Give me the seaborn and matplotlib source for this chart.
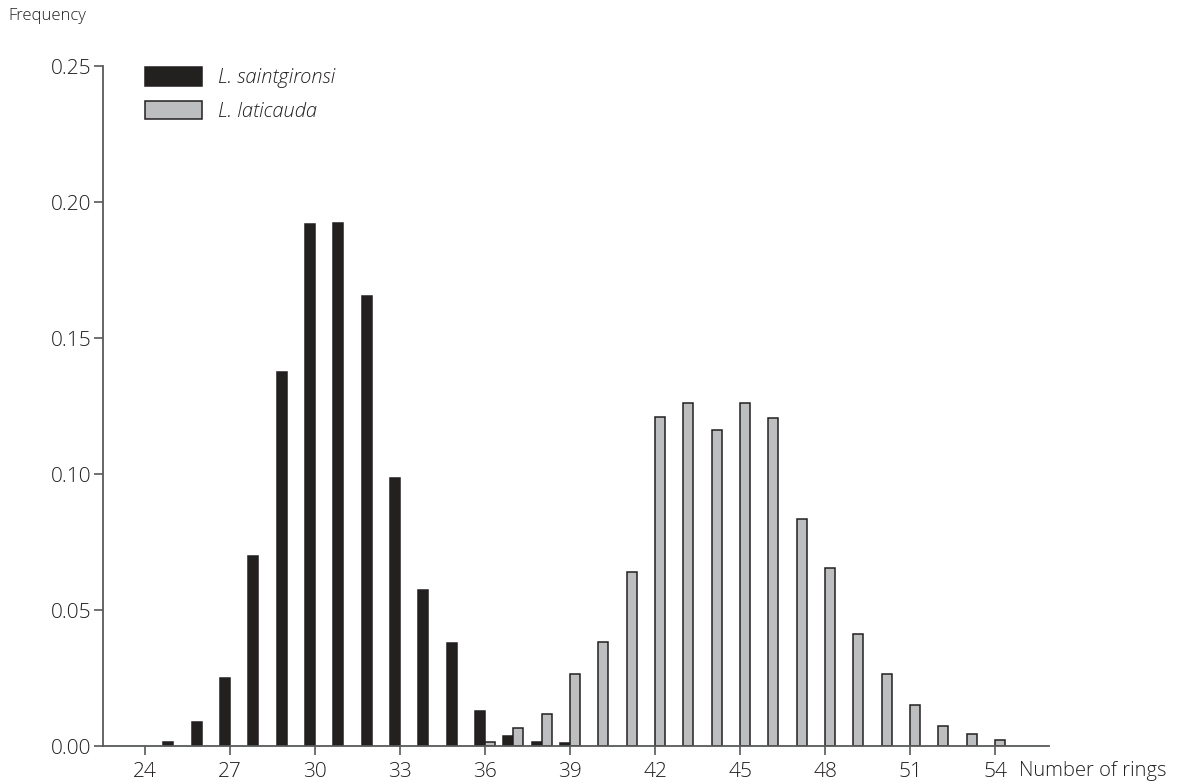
import matplotlib
matplotlib.use("Agg")
import matplotlib.pyplot as plt
import pandas as pd
import seaborn as sns

# Frequency of ring counts for two species
saint_rings = [25, 26, 27, 28, 29, 30, 31, 32, 33, 34, 35, 36, 37, 38, 39]
saint_freq = [0.0015, 0.0087, 0.0249, 0.0700, 0.1376, 0.1918, 0.1923, 0.1654,
              0.0985, 0.0574, 0.0378, 0.0129, 0.0037, 0.0014, 0.0012]

lati_rings = [36, 37, 38, 39, 40, 41, 42, 43, 44, 45, 46, 47, 48, 49, 50,
              51, 52, 53, 54]
lati_freq = [0.0014, 0.0067, 0.0117, 0.0265, 0.0383, 0.0640, 0.1211, 0.1260,
             0.1161, 0.1260, 0.1206, 0.0835, 0.0654, 0.0410, 0.0265, 0.0151,
             0.0075, 0.0043, 0.0021]

species = ["L. saintgironsi", "L. laticauda"]
x_ticks = [24, 27, 30, 33, 36, 39, 42, 45, 48, 51, 54]
y_ticks = [0.00, 0.05, 0.10, 0.15, 0.20, 0.25]

df = pd.concat([
    pd.DataFrame({"rings": saint_rings, "freq": saint_freq, "species": species[0]}),
    pd.DataFrame({"rings": lati_rings, "freq": lati_freq, "species": species[1]}),
], ignore_index=True)

sns.set_style("white")
plt.rcParams["font.family"] = ["Open Sans", "DejaVu Sans"]
plt.rcParams["font.weight"] = "light"

W, H = 1185, 783
fig = plt.figure(figsize=(W / 100, H / 100), dpi=100)
ax = fig.add_axes([103 / W, 1 - 746 / H, (1049 - 103) / W, (746 - 66) / H])

axis_col = "#58595b"
ink = "#231f20"

sns.barplot(data=df, x="rings", y="freq", hue="species", hue_order=species,
            palette=[ink, "#bcbec0"], native_scale=True, width=0.7,
            dodge=True, edgecolor=ink, linewidth=1.1, ax=ax, errorbar=None)

ax.set_xlim(22.52, 55.9)
ax.set_ylim(0, 0.25)
ax.set_xticks(x_ticks)
ax.set_xticklabels([str(t) for t in x_ticks])
ax.set_yticks(y_ticks)
ax.set_yticklabels([f"{t:.2f}" for t in y_ticks])
ax.set_xlabel("")
ax.set_ylabel("")

for s in ["top", "right"]:
    ax.spines[s].set_visible(False)
for s in ["left", "bottom"]:
    ax.spines[s].set_color(axis_col)
    ax.spines[s].set_linewidth(1.3)

ax.tick_params(axis="both", direction="out", length=6.5, width=1.2,
               color=axis_col, labelsize=15, labelcolor="#231f20")
ax.tick_params(axis="x", bottom=True, pad=5)
ax.tick_params(axis="y", left=True, pad=2)

fig.text(8 / W, 1 - 16 / H, "Frequency", fontsize=12, color=ink,
         ha="left", va="center")
fig.text(1019 / W, 1 - 771 / H, "Number of rings", fontsize=14.5, color=ink,
         ha="left", va="center")

handles, labels = ax.get_legend_handles_labels()
leg = ax.legend(handles, labels, loc="upper left",
                bbox_to_anchor=(145 / W, 1 - 67 / H),
                bbox_transform=fig.transFigure, frameon=False,
                prop={"style": "italic", "size": 14.5},
                handlelength=2.85, handleheight=1.05, handletextpad=0.75,
                labelspacing=0.62, borderpad=0, borderaxespad=0)
for t in leg.get_texts():
    t.set_color(ink)

fig.savefig("out.png", dpi=100, facecolor="white")
